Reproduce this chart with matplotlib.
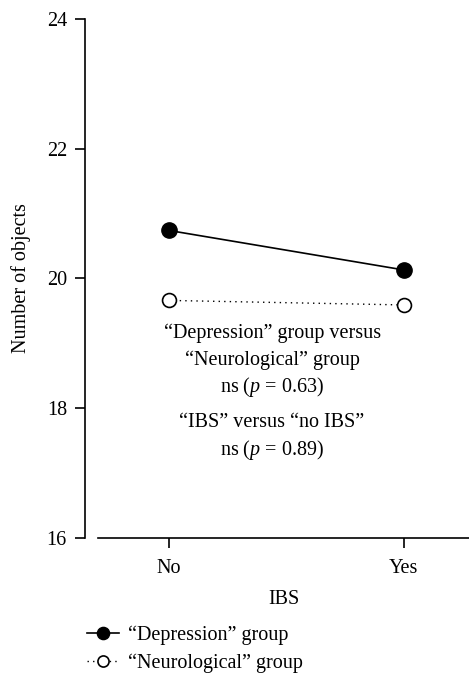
import matplotlib
matplotlib.use("Agg")
import matplotlib.pyplot as plt

plt.rcParams["font.family"] = ["Liberation Serif", "DejaVu Serif"]
plt.rcParams["mathtext.fontset"] = "custom"
plt.rcParams["mathtext.rm"] = "Liberation Serif"
plt.rcParams["mathtext.it"] = "Liberation Serif:italic"

# data
ibs_levels = ["No", "Yes"]
depression = [20.74, 20.13]
neurological = [19.66, 19.59]
y_ticks = [16, 18, 20, 22, 24]

fs = 14.5

fig = plt.figure(figsize=(4.69, 6.75), dpi=100)
ax = fig.add_axes([0.209, 0.2034, 0.791, 0.7684])

x = list(range(len(ibs_levels)))
ax.plot(x, depression, color="black", linewidth=1.2, marker="o",
        markersize=11, markerfacecolor="black", markeredgecolor="black",
        label="\u201cDepression\u201d group")
ax.plot(x, neurological, color="black", linewidth=1.0, linestyle=(0, (1, 3)),
        marker="o", markersize=10, markerfacecolor="white",
        markeredgecolor="black", markeredgewidth=1.2,
        label="\u201cNeurological\u201d group")

ax.set_xlim(-0.30, 1.277)
ax.set_ylim(16, 24)
ax.set_xticks(x)
ax.set_xticklabels(ibs_levels)
ax.set_yticks(y_ticks)

for side in ["top", "right"]:
    ax.spines[side].set_visible(False)
ax.spines["left"].set_position(("outward", 9.4))
ax.spines["left"].set_bounds(16, 24)
ax.spines["left"].set_linewidth(1.2)
ax.spines["bottom"].set_linewidth(1.2)
ax.tick_params(axis="both", direction="out", length=7, width=1.2,
               labelsize=fs)
ax.tick_params(axis="y", pad=6)
ax.tick_params(axis="x", pad=8)

ax.set_xlabel("IBS", fontsize=fs, labelpad=9)
ax.set_ylabel("Number of objects", fontsize=fs, labelpad=11)

# annotation block
notes = [
    ("\u201cDepression\u201d group versus", 19.08),
    ("\u201cNeurological\u201d group", 18.66),
    ("ns ($\\mathit{p}$ = 0.63)", 18.24),
    ("\u201cIBS\u201d versus \u201cno IBS\u201d", 17.70),
    ("ns ($\\mathit{p}$ = 0.89)", 17.28),
]
for txt, yv in notes:
    ax.text(0.44, yv, txt, ha="center", va="baseline", fontsize=fs)

fig.legend(loc="upper left", bbox_to_anchor=(0.168, 0.085), frameon=False,
           fontsize=fs, handlelength=1.6, handletextpad=0.45,
           labelspacing=0.42, borderaxespad=0, markerscale=0.8)

fig.savefig("out.png", dpi=100)
